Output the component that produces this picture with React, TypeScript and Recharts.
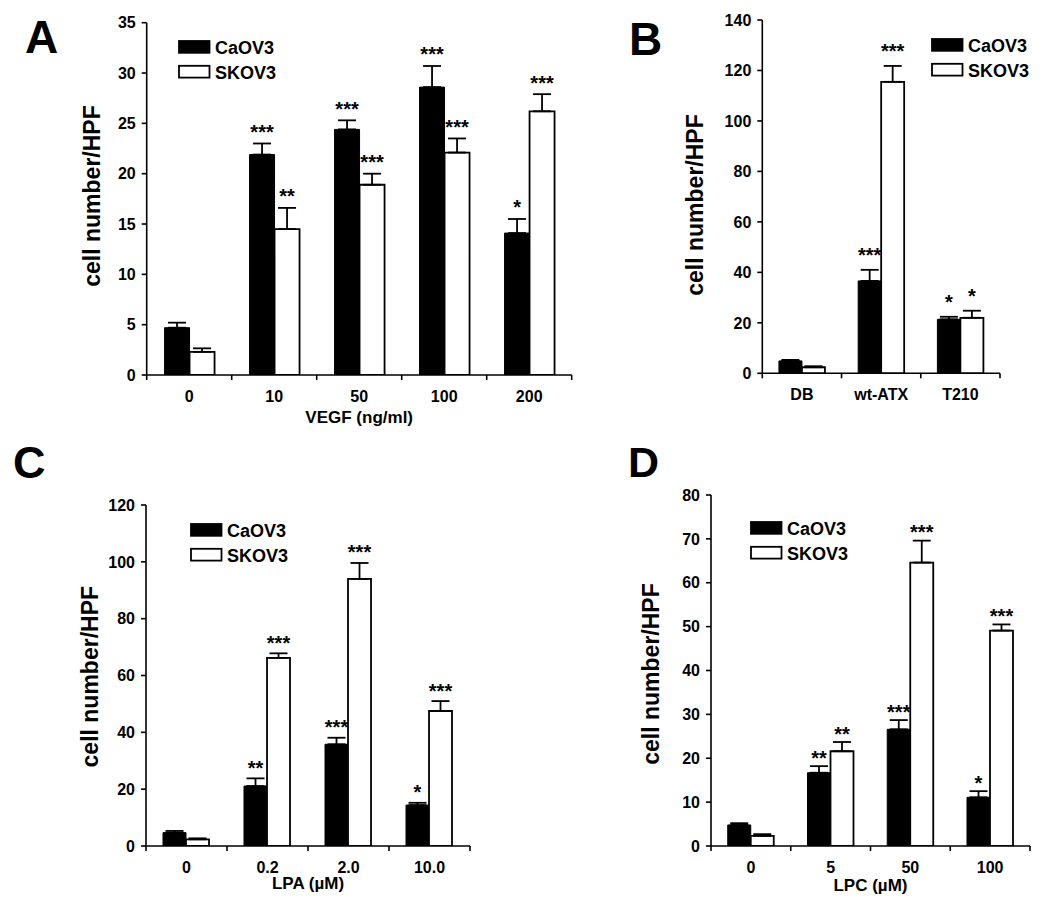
import React from 'react';
import { BarChart, Bar, XAxis, YAxis, ErrorBar, LabelList, Legend } from 'recharts';

const FONT = '"Liberation Sans", Arial, Helvetica, sans-serif';

// A - VEGF
const vegfDoses = ['0', '10', '50', '100', '200'];
const vegfCaov3 = [4.7, 21.9, 24.4, 28.6, 14.1];
const vegfCaov3Err = [0.5, 1.1, 0.9, 2.1, 1.4];
const vegfSkov3 = [2.3, 14.5, 18.9, 22.1, 26.2];
const vegfSkov3Err = [0.35, 2.1, 1.1, 1.4, 1.7];
const vegfCaov3Stars = ['', '***', '***', '***', '*'];
const vegfSkov3Stars = ['', '**', '***', '***', '***'];
const vegfTicks = [0, 5, 10, 15, 20, 25, 30, 35];

// B - ATX
const atxGroups = ['DB', 'wt-ATX', 'T210'];
const atxCaov3 = [4.9, 36.6, 21.4];
const atxCaov3Err = [0.4, 4.4, 1.0];
const atxSkov3 = [2.4, 115.5, 22.0];
const atxSkov3Err = [0.4, 6.3, 2.8];
const atxCaov3Stars = ['', '***', '*'];
const atxSkov3Stars = ['', '***', '*'];
const atxTicks = [0, 20, 40, 60, 80, 100, 120, 140];

// C - LPA
const lpaDoses = ['0', '0.2', '2.0', '10.0'];
const lpaCaov3 = [4.7, 21.1, 35.8, 14.4];
const lpaCaov3Err = [0.6, 2.7, 2.3, 0.8];
const lpaSkov3 = [2.35, 66.2, 94.0, 47.5];
const lpaSkov3Err = [0.35, 1.6, 5.6, 3.5];
const lpaCaov3Stars = ['', '**', '***', '*'];
const lpaSkov3Stars = ['', '***', '***', '***'];
const lpaTicks = [0, 20, 40, 60, 80, 100, 120];

// D - LPC
const lpcDoses = ['0', '5', '50', '100'];
const lpcCaov3 = [4.8, 16.7, 26.6, 11.1];
const lpcCaov3Err = [0.4, 1.5, 2.1, 1.4];
const lpcSkov3 = [2.3, 21.6, 64.6, 49.1];
const lpcSkov3Err = [0.4, 2.1, 5.0, 1.4];
const lpcCaov3Stars = ['', '**', '***', '*'];
const lpcSkov3Stars = ['', '**', '***', '***'];
const lpcTicks = [0, 10, 20, 30, 40, 50, 60, 70, 80];

type Layout = {
  letter: string;
  letterX: number;
  letterY: number;
  letterSize: number;
  left: number;
  top: number;
  width: number;
  height: number;
  yAxisW: number;
  mTop: number;
  mRight: number;
  xAxisH: number;
  yTitleX: number;
  yTitleY: number;
  xTitle?: string;
  xTitleY?: number;
  legendX: number;
  legendY: number;
  starGap: number;
};

const buildRows = (
  names: string[],
  ca: number[],
  caErr: number[],
  sk: number[],
  skErr: number[],
  caStars: string[],
  skStars: string[],
) =>
  names.map((name, i) => ({
    name,
    ca: ca[i],
    caErr: [0, caErr[i]],
    caStar: caStars[i],
    sk: sk[i],
    skErr: [0, skErr[i]],
    skStar: skStars[i],
  }));

// category labels sit at band centres, tick marks at band edges
function makeXTick(n: number, plotW: number, axisY: number) {
  const half = plotW / n / 2;
  return (props: any) => {
    const { x, y, payload, index } = props;
    return (
      <g>
        <line x1={x - half} x2={x - half} y1={axisY} y2={axisY + 5} stroke="#000" strokeWidth={1.6} />
        {index === n - 1 && (
          <line x1={x + half} x2={x + half} y1={axisY} y2={axisY + 5} stroke="#000" strokeWidth={1.6} />
        )}
        <text
          x={x}
          y={y}
          dy="0.71em"
          textAnchor="middle"
          fill="#000"
          fontSize={16}
          fontWeight={700}
          fontFamily={FONT}
        >
          {payload.value}
        </text>
      </g>
    );
  };
}

function makeStars(errs: number[], pxPerUnit: number, gap: number) {
  return (props: any) => {
    const vb = props.viewBox ?? {};
    const x = Number(props.x ?? vb.x);
    const y = Number(props.y ?? vb.y);
    const w = Number(props.width ?? vb.width);
    const text = props.value;
    if (!text) return null;
    const errTop = y - errs[props.index] * pxPerUnit;
    return (
      <text
        x={x + w / 2}
        y={errTop - gap + 8.5}
        textAnchor="middle"
        fill="#000"
        fontSize={20}
        fontWeight={700}
        fontFamily={FONT}
      >
        {text}
      </text>
    );
  };
}

function LegendBox() {
  return (
    <svg width={150} height={56} style={{ overflow: 'visible' }}>
      <rect x={1} y={6} width={30.5} height={11.8} fill="#000" stroke="#000" strokeWidth={1.8} />
      <text x={37} y={18.8} fontSize={18} fontWeight={700} fontFamily={FONT} fill="#000">
        CaOV3
      </text>
      <rect x={1} y={30.8} width={30.5} height={11.8} fill="#fff" stroke="#000" strokeWidth={1.8} />
      <text x={37} y={43.5} fontSize={18} fontWeight={700} fontFamily={FONT} fill="#000">
        SKOV3
      </text>
    </svg>
  );
}

function Panel({
  cfg,
  rows,
  ticks,
  caErr,
  skErr,
}: {
  cfg: Layout;
  rows: any[];
  ticks: number[];
  caErr: number[];
  skErr: number[];
}) {
  const yMax = ticks[ticks.length - 1];
  const plotW = cfg.width - cfg.yAxisW - cfg.mRight;
  const plotH = cfg.height - cfg.mTop - cfg.xAxisH;
  const axisY = cfg.mTop + plotH;
  const pxPerUnit = plotH / yMax;
  const axisStyle = { stroke: '#000', strokeWidth: 1.6 };

  return (
    <>
      <div
        style={{
          position: 'absolute',
          left: cfg.letterX,
          top: cfg.letterY,
          fontFamily: FONT,
          fontWeight: 700,
          fontSize: cfg.letterSize,
          lineHeight: 1,
          color: '#000',
        }}
      >
        {cfg.letter}
      </div>
      <div style={{ position: 'absolute', left: cfg.left, top: cfg.top }}>
        <BarChart
          width={cfg.width}
          height={cfg.height}
          data={rows}
          margin={{ top: cfg.mTop, right: cfg.mRight, bottom: 0, left: 0 }}
          barCategoryGap="21%"
          barGap={0}
          style={{ fontFamily: FONT }}
        >
          <XAxis
            dataKey="name"
            height={cfg.xAxisH}
            interval={0}
            tickLine={false}
            tickSize={5}
            tickMargin={10.3}
            axisLine={axisStyle}
            tick={makeXTick(rows.length, plotW, axisY)}
            label={
              cfg.xTitle
                ? () => (
                    <text
                      x={cfg.yAxisW + plotW / 2}
                      y={cfg.xTitleY}
                      textAnchor="middle"
                      fill="#000"
                      fontSize={17}
                      fontWeight={700}
                      fontFamily={FONT}
                    >
                      {cfg.xTitle}
                    </text>
                  )
                : undefined
            }
          />
          <YAxis
            width={cfg.yAxisW}
            domain={[0, yMax]}
            ticks={ticks}
            interval={0}
            allowDataOverflow
            tickSize={5}
            tickMargin={6}
            axisLine={axisStyle}
            tickLine={axisStyle}
            tick={{ fill: '#000', fontSize: 16, fontWeight: 700, fontFamily: FONT }}
            label={() => (
              <text
                x={cfg.yTitleX}
                y={cfg.yTitleY}
                transform={`rotate(-90 ${cfg.yTitleX} ${cfg.yTitleY})`}
                textAnchor="middle"
                fill="#000"
                fontSize={23}
                fontWeight={700}
                fontFamily={FONT}
              >
                cell number/HPF
              </text>
            )}
          />
          <Legend
            layout="vertical"
            align="center"
            verticalAlign="middle"
            wrapperStyle={{ left: cfg.legendX, top: cfg.legendY - 5, width: 150, height: 56 }}
            content={() => <LegendBox />}
          />
          <Bar dataKey="ca" name="CaOV3" fill="#000" stroke="#000" strokeWidth={1} isAnimationActive={false}>
            <ErrorBar dataKey="caErr" width={9} strokeWidth={1.8} stroke="#000" direction="y" />
            <LabelList dataKey="caStar" content={makeStars(caErr, pxPerUnit, cfg.starGap)} />
          </Bar>
          <Bar dataKey="sk" name="SKOV3" fill="#fff" stroke="#000" strokeWidth={1.8} isAnimationActive={false}>
            <ErrorBar dataKey="skErr" width={9} strokeWidth={1.8} stroke="#000" direction="y" />
            <LabelList dataKey="skStar" content={makeStars(skErr, pxPerUnit, cfg.starGap)} />
          </Bar>
        </BarChart>
      </div>
    </>
  );
}

const layoutA: Layout = {
  letter: 'A', letterX: 25, letterY: 14, letterSize: 46,
  left: 0, top: 0, width: 600, height: 440,
  yAxisW: 146.7, mTop: 22.7, mRight: 28.3, xAxisH: 65,
  yTitleX: 99.5, yTitleY: 196, xTitle: 'VEGF (ng/ml)', xTitleY: 423,
  legendX: 178, legendY: 39.7, starGap: 13,
};
const layoutB: Layout = {
  letter: 'B', letterX: 629, letterY: 15.7, letterSize: 46,
  left: 600, top: 0, width: 450, height: 440,
  yAxisW: 162.3, mTop: 20, mRight: 50, xAxisH: 66.7,
  yTitleX: 103, yTitleY: 205,
  legendX: 331.3, legendY: 38.3, starGap: 16,
};
const layoutC: Layout = {
  letter: 'C', letterX: 13, letterY: 440, letterSize: 45,
  left: 0, top: 440, width: 520, height: 478,
  yAxisW: 146, mTop: 65, mRight: 50, xAxisH: 72,
  yTitleX: 98, yTitleY: 236.7, xTitle: 'LPA (µM)', xTitleY: 449,
  legendX: 190, legendY: 83, starGap: 12,
};
const layoutD: Layout = {
  letter: 'D', letterX: 628, letterY: 441, letterSize: 43,
  left: 520, top: 440, width: 528, height: 478,
  yAxisW: 191, mTop: 55, mRight: 18, xAxisH: 72,
  yTitleX: 138.6, yTitleY: 234, xTitle: 'LPC (µM)', xTitleY: 450.5,
  legendX: 230, legendY: 80.7, starGap: 10,
};

export default function App() {
  return (
    <div style={{ position: 'absolute', left: 0, top: 0, width: 1050, height: 918, background: '#fff' }}>
      <Panel
        cfg={layoutA}
        rows={buildRows(vegfDoses, vegfCaov3, vegfCaov3Err, vegfSkov3, vegfSkov3Err, vegfCaov3Stars, vegfSkov3Stars)}
        ticks={vegfTicks}
        caErr={vegfCaov3Err}
        skErr={vegfSkov3Err}
      />
      <Panel
        cfg={layoutB}
        rows={buildRows(atxGroups, atxCaov3, atxCaov3Err, atxSkov3, atxSkov3Err, atxCaov3Stars, atxSkov3Stars)}
        ticks={atxTicks}
        caErr={atxCaov3Err}
        skErr={atxSkov3Err}
      />
      <Panel
        cfg={layoutC}
        rows={buildRows(lpaDoses, lpaCaov3, lpaCaov3Err, lpaSkov3, lpaSkov3Err, lpaCaov3Stars, lpaSkov3Stars)}
        ticks={lpaTicks}
        caErr={lpaCaov3Err}
        skErr={lpaSkov3Err}
      />
      <Panel
        cfg={layoutD}
        rows={buildRows(lpcDoses, lpcCaov3, lpcCaov3Err, lpcSkov3, lpcSkov3Err, lpcCaov3Stars, lpcSkov3Stars)}
        ticks={lpcTicks}
        caErr={lpcCaov3Err}
        skErr={lpcSkov3Err}
      />
    </div>
  );
}
